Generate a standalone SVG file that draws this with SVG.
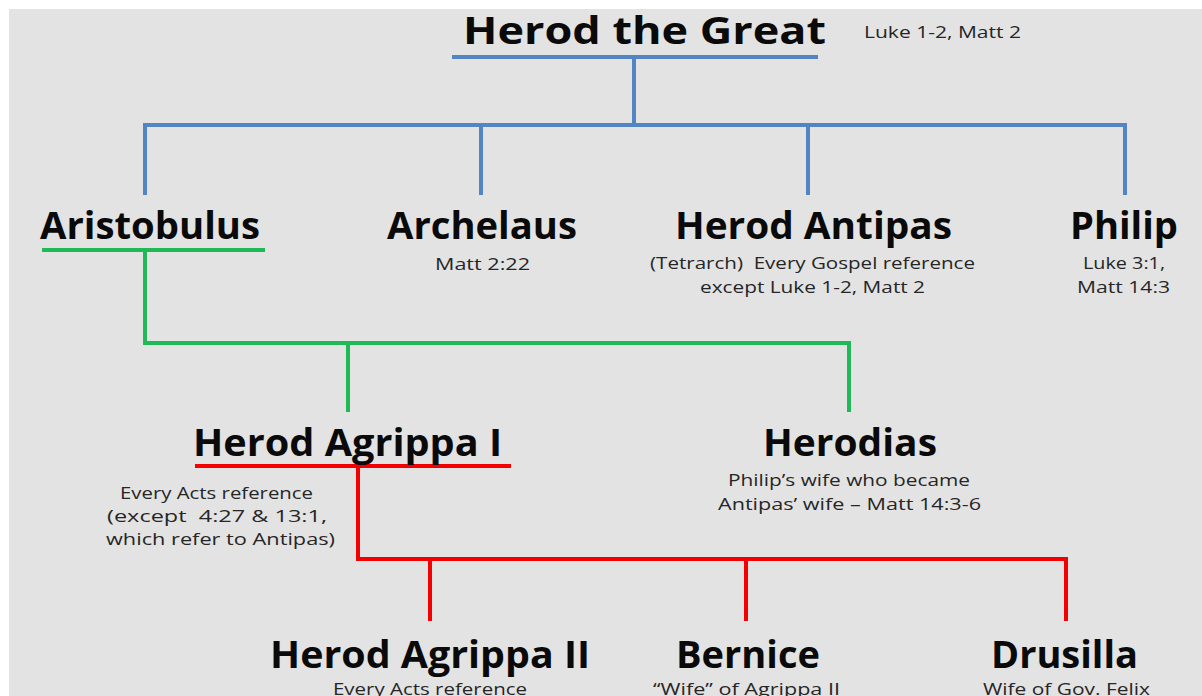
<svg xmlns="http://www.w3.org/2000/svg" width="1202" height="696" viewBox="0 0 1202 696">
<defs>
<style>
.title{font-family:"Open Sans","Liberation Sans",sans-serif;font-weight:700;font-size:38px;fill:#0a0a0a;text-anchor:middle}
.sub{font-family:"Open Sans","Liberation Sans",sans-serif;font-size:17px;fill:#262626;text-anchor:middle;white-space:pre}
.blue{stroke:#5384c4;stroke-width:4;fill:none}
.green{stroke:#1fb957;stroke-width:4;fill:none}
.red{stroke:#f40000;stroke-width:4;fill:none}
</style>
</defs>
<rect x="0" y="0" width="1202" height="696" fill="#ffffff"/>
<rect x="9" y="9" width="1193" height="687" fill="#e3e3e3"/>

<g id="connectors">
<line class="blue" x1="452" y1="57" x2="818" y2="57"/>
<polyline class="blue" points="634,57 634,125"/>
<polyline class="blue" points="145,195 145,125 1125,125 1125,195"/>
<line class="blue" x1="481" y1="125" x2="481" y2="195"/>
<line class="blue" x1="808" y1="125" x2="808" y2="195"/>

<line class="green" x1="42" y1="250" x2="265" y2="250"/>
<polyline class="green" points="145,250 145,343 849,343 849,412"/>
<line class="green" x1="348" y1="343" x2="348" y2="412"/>

<line class="red" x1="195" y1="466" x2="511" y2="466"/>
<polyline class="red" points="358,466 358,559 1068,559"/>
<line class="red" x1="430" y1="559" x2="430" y2="621"/>
<line class="red" x1="746" y1="559" x2="746" y2="621"/>
<line class="red" x1="1066" y1="559" x2="1066" y2="621"/>
</g>

<g id="herod-the-great">
<text class="title" x="644.5" y="44" font-size="40" textLength="363" lengthAdjust="spacingAndGlyphs">Herod the Great</text>
<text class="sub" x="942.5" y="38" font-size="16" textLength="157" lengthAdjust="spacingAndGlyphs">Luke 1-2, Matt 2</text>
</g>

<g id="aristobulus">
<text class="title" x="150" y="239" textLength="220" lengthAdjust="spacingAndGlyphs">Aristobulus</text>
</g>

<g id="archelaus">
<text class="title" x="482" y="239" textLength="190" lengthAdjust="spacingAndGlyphs">Archelaus</text>
<text class="sub" x="482.5" y="270" textLength="95" lengthAdjust="spacingAndGlyphs">Matt 2:22</text>
</g>

<g id="herod-antipas">
<text class="title" x="813.5" y="239" textLength="277" lengthAdjust="spacingAndGlyphs">Herod Antipas</text>
<text class="sub" x="812.5" y="269" textLength="325" lengthAdjust="spacingAndGlyphs">(Tetrarch)  Every Gospel reference</text>
<text class="sub" x="812.5" y="293" textLength="225" lengthAdjust="spacingAndGlyphs">except Luke 1-2, Matt 2</text>
</g>

<g id="philip">
<text class="title" x="1124" y="239" textLength="108" lengthAdjust="spacingAndGlyphs">Philip</text>
<text class="sub" x="1124" y="269" textLength="82" lengthAdjust="spacingAndGlyphs">Luke 3:1,</text>
<text class="sub" x="1123.5" y="293" textLength="93" lengthAdjust="spacingAndGlyphs">Matt 14:3</text>
</g>

<g id="herod-agrippa-i">
<text class="title" x="347.5" y="456" textLength="309" lengthAdjust="spacingAndGlyphs">Herod Agrippa I</text>
<text class="sub" x="216.5" y="499" textLength="193" lengthAdjust="spacingAndGlyphs">Every Acts reference</text>
<text class="sub" x="217" y="522" textLength="220" lengthAdjust="spacingAndGlyphs">(except  4:27 &amp; 13:1,</text>
<text class="sub" x="220.5" y="545" textLength="229" lengthAdjust="spacingAndGlyphs">which refer to Antipas)</text>
</g>

<g id="herodias">
<text class="title" x="850" y="456" textLength="174" lengthAdjust="spacingAndGlyphs">Herodias</text>
<text class="sub" x="849" y="486" textLength="242" lengthAdjust="spacingAndGlyphs">Philip’s wife who became</text>
<text class="sub" x="849.5" y="510" textLength="263" lengthAdjust="spacingAndGlyphs">Antipas’ wife – Matt 14:3-6</text>
</g>

<g id="herod-agrippa-ii">
<text class="title" x="430" y="668" textLength="320" lengthAdjust="spacingAndGlyphs">Herod Agrippa II</text>
<text class="sub" x="430" y="695" textLength="194" lengthAdjust="spacingAndGlyphs">Every Acts reference</text>
</g>

<g id="bernice">
<text class="title" x="748" y="668" textLength="144" lengthAdjust="spacingAndGlyphs">Bernice</text>
<text class="sub" x="746.5" y="695" textLength="187" lengthAdjust="spacingAndGlyphs">“Wife” of Agrippa II</text>
</g>

<g id="drusilla">
<text class="title" x="1064.5" y="668" textLength="147" lengthAdjust="spacingAndGlyphs">Drusilla</text>
<text class="sub" x="1066.5" y="695" textLength="167" lengthAdjust="spacingAndGlyphs">Wife of Gov. Felix</text>
</g>
</svg>
